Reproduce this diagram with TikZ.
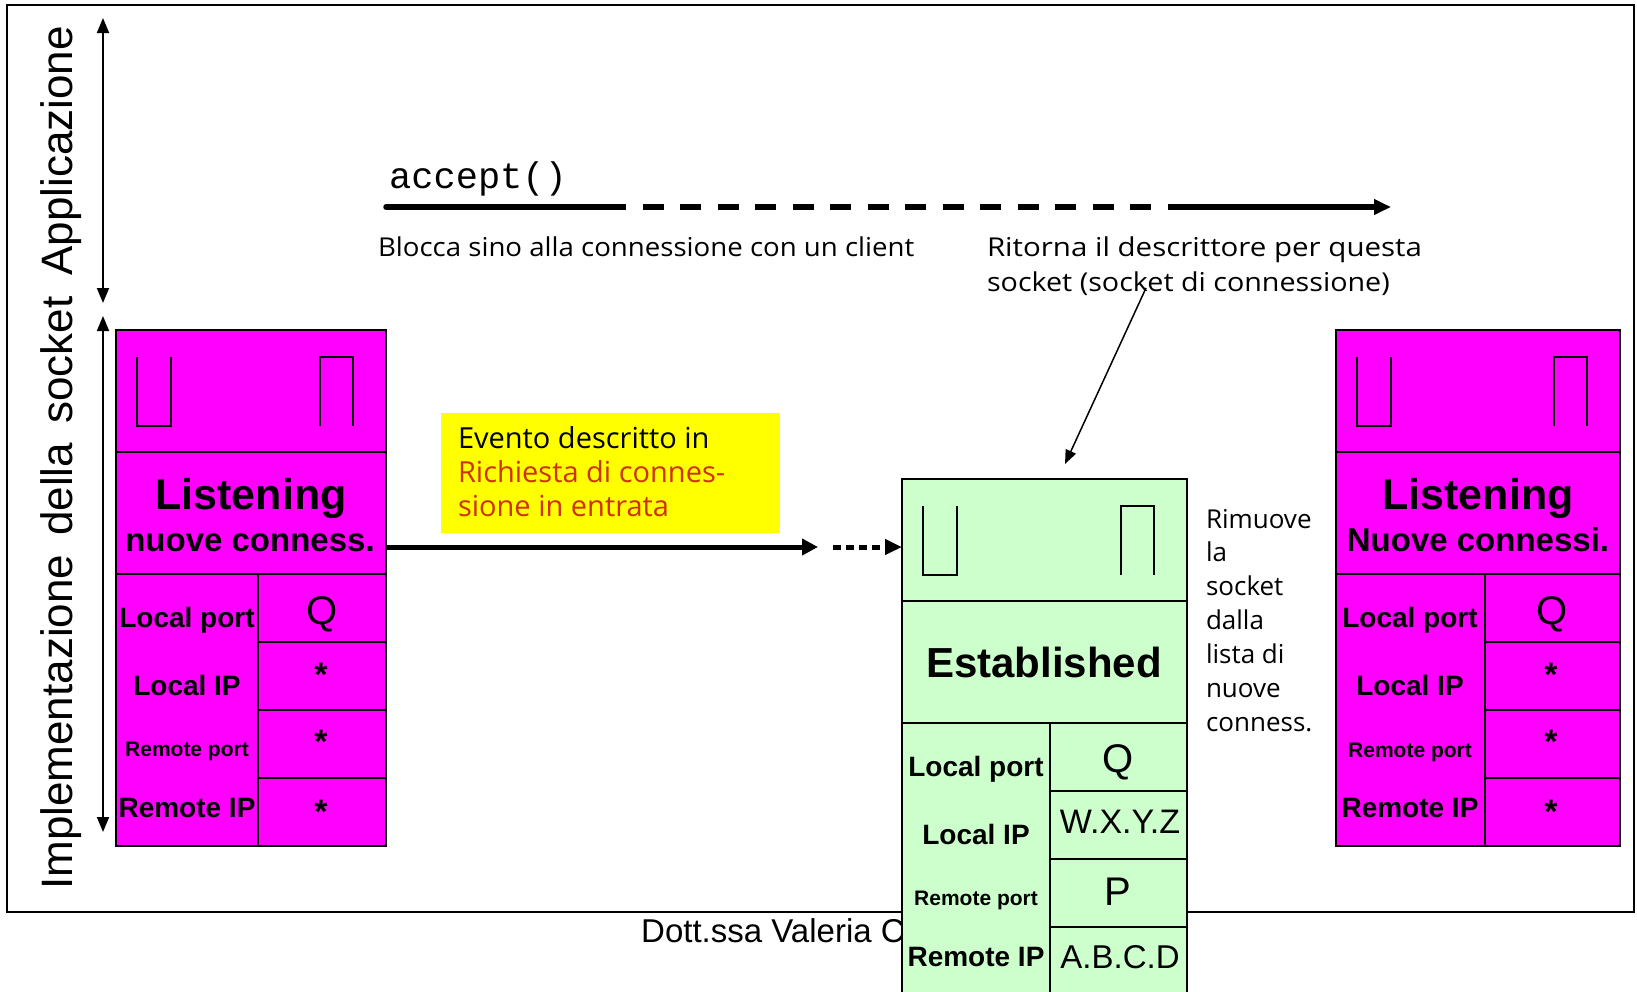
\documentclass[tikz,border=0pt]{standalone}
\usepackage{fontspec}
\setmainfont{Liberation Sans}
\newfontfamily\notefont{Open Sans}
\newfontfamily\codefont{Liberation Mono}
\usetikzlibrary{arrows.meta,calc}

\definecolor{sockmag}{RGB}{255,0,255}
\definecolor{estgreen}{RGB}{204,255,204}
\definecolor{evyellow}{RGB}{255,255,0}
\definecolor{evred}{RGB}{204,51,0}

\newcommand{\setfs}[1]{\fontsize{#1pt}{#1pt}\selectfont}

% socket record: #1 prefix, #2 left x, #3 top y, #4 width, #5 label column width, #6 fill
\newcommand{\sockrecord}[6]{%
  \node[cell,fill=#6,minimum width=#4,minimum height=122] (#1q) at (#2,#3) {};
  \node[cell,fill=#6,minimum width=#4,minimum height=122] (#1s) at (#2,#3+122) {};
  \node[cell,fill=#6,minimum width=#5,minimum height=272] (#1k) at (#2,#3+244) {};
  \node[cell,fill=#6,minimum width=#4-#5,minimum height=68] (#1c1) at (#2+#5,#3+244) {};
  \node[cell,fill=#6,minimum width=#4-#5,minimum height=68] (#1c2) at (#2+#5,#3+312) {};
  \node[cell,fill=#6,minimum width=#4-#5,minimum height=68] (#1c3) at (#2+#5,#3+380) {};
  \node[cell,fill=#6,minimum width=#4-#5,minimum height=68] (#1c4) at (#2+#5,#3+448) {};
  % queue symbols
  \draw[qline] ($(#1q.north west)+(21,27)$) -- ++(0,69) -- ++(34,0) -- ++(0,-69);
  \draw[qline] ($(#1q.north east)+(-66,96)$) -- ++(0,-69) -- ++(33,0) -- ++(0,69);
}

\begin{document}
\begin{tikzpicture}[x=1pt,y=-1pt,
  cell/.style={draw=black,line width=1.8pt,inner sep=0pt,outer sep=0pt,anchor=north west},
  qline/.style={draw=black,line width=1.8pt},
  txt/.style={inner sep=0pt,outer sep=0pt,anchor=base},
  title/.style={txt,font=\bfseries\setfs{43}},
  subtitle/.style={txt,font=\bfseries\setfs{33}},
  lab/.style={txt,font=\bfseries\setfs{28}},
  labsmall/.style={txt,font=\bfseries\setfs{21}},
  val/.style={txt,font=\setfs{40}},
  valsmall/.style={txt,font=\setfs{34}},
  star/.style={txt,font=\bfseries\setfs{34}},
  note/.style={inner sep=0pt,outer sep=0pt,anchor=base west,font=\notefont\setfs{26}},
  evnote/.style={note,font=\notefont\setfs{29}},
  bigarrow/.style={line width=5pt,-{Triangle[length=16pt,width=16pt]}},
  dotarrow/.style={line width=5pt,dash pattern=on 8pt off 5pt,-{Triangle[length=17pt,width=15pt]}},
  callarrow/.style={line width=5.5pt},
  thinarrow/.style={line width=1.5pt,-{Triangle[length=14pt,width=11pt]}},
  layerarrow/.style={line width=1.8pt,{Triangle[length=15pt,width=12pt]}-{Triangle[length=15pt,width=12pt]}}
]
\useasboundingbox (0,0) rectangle (1637,991);
\clip (0,0) rectangle (1637,991);
\fill[white] (0,0) rectangle (1637,991);

% slide frame and footer
\draw[line width=1.5pt] (7,5) rectangle (1634,912);
\node[inner sep=0pt,anchor=base west,font=\setfs{33}] (foot) at (641,942) {Dott.ssa Valeria C};

% layer labels on the left
\coordinate (appTop) at (103,18);
\coordinate (appBot) at (103,303);
\coordinate (impTop) at (103,316);
\coordinate (impBot) at (103,832);
\draw[layerarrow] (appTop) -- (appBot);
\draw[layerarrow] (impTop) -- (impBot);
\node[rotate=90,anchor=base west,inner sep=0pt,font=\setfs{44}] (side) at (72,890)
  {Implementazione\hspace{19pt}della\hspace{19pt}socket\hspace{21pt}Applicazione};

% accept() call
\node[inner sep=0pt,anchor=base west,font=\codefont\setfs{37}] (acc) at (389,188) {accept()};
\coordinate (callA) at (386,207);
\coordinate (callB) at (605,207);
\coordinate (callC) at (1172,207);
\coordinate (callD) at (1391,207);
\draw[callarrow,line cap=round] (callA) -- (callB);
\draw[callarrow,dash pattern=on 21pt off 16.5pt] (callB) -- (callC);
\draw[callarrow,-{Triangle[length=17pt,width=15pt]}] (callC) -- (callD);
\node[note,xscale=1.062] (blk) at (378,256) {Blocca sino alla connessione con un client};
\node[note,xscale=1.134] (ret1) at (987,256) {Ritorna il descrittore per questa};
\node[note,xscale=1.103] (ret2) at (987,291) {socket (socket di connessione)};

% listening socket (left)
\sockrecord{L}{116}{330}{270}{142}{sockmag}
\node[title] (Lt1) at (251,509) {Listening};
\node[subtitle] (Lt2) at (250,551) {nuove conness.};
\node[lab] (Ll1) at (187,627) {Local port};
\node[lab] (Ll2) at (187,695) {Local IP};
\node[labsmall] (Ll3) at (187,756) {Remote port};
\node[lab] (Ll4) at (187,817) {Remote IP};
\node[val] (Lv1) at (322,624) {Q};
\node[star] (Lv2) at (321,686) {*};
\node[star] (Lv3) at (321,753) {*};
\node[star] (Lv4) at (321,823) {*};

% listening socket (right)
\sockrecord{R}{1336}{330}{284}{149}{sockmag}
\node[title] (Rt1) at (1478,509) {Listening};
\node[subtitle] (Rt2) at (1478,551) {Nuove connessi.};
\node[lab] (Rl1) at (1410,627) {Local port};
\node[lab] (Rl2) at (1410,695) {Local IP};
\node[labsmall] (Rl3) at (1410,757) {Remote port};
\node[lab] (Rl4) at (1410,817) {Remote IP};
\node[val] (Rv1) at (1552,624) {Q};
\node[star] (Rv2) at (1551,686) {*};
\node[star] (Rv3) at (1551,753) {*};
\node[star] (Rv4) at (1551,823) {*};

% event box
\node[fill=evyellow,anchor=north west,minimum width=339,minimum height=120,inner sep=0pt] (ev) at (441,413) {};
\node[evnote] (ev1) at (458,448) {Evento descritto in};
\node[evnote,text=evred] (ev2) at (458,482) {Richiesta di connes-};
\node[evnote,text=evred] (ev3) at (458,516) {sione in entrata};

% established socket
\sockrecord{E}{902}{479}{285}{148}{estgreen}
\node[title,font=\bfseries\setfs{42}] (Et1) at (1044,677) {Established};
\node[lab] (El1) at (976,776) {Local port};
\node[lab] (El2) at (976,844) {Local IP};
\node[labsmall] (El3) at (976,905) {Remote port};
\node[lab] (El4) at (976,966) {Remote IP};
\node[val] (Ev1) at (1118,772) {Q};
\node[valsmall] (Ev2) at (1120,833) {W.X.Y.Z};
\node[val] (Ev3) at (1118,905) {P};
\node[valsmall,font=\setfs{33}] (Ev4) at (1120,968) {A.B.C.D};

% removal note
\foreach \t [count=\i from 0] in {Rimuove,la,socket,dalla,lista di,nuove,conness.}
  \node[note] (rm\i) at (1206,528+33.9*\i) {\t};

% connection request arrows
\coordinate (evEnd) at (818,547);
\coordinate (dotStart) at (833,547);
\draw[bigarrow] (Ls.east |- evEnd) -- (evEnd);
\draw[dotarrow] (dotStart) -- (dotStart -| Eq.west);

% pointer to the returned socket
\coordinate (retFrom) at (1146,288);
\coordinate (retTo) at (1065,464);
\draw[thinarrow] (retFrom) -- (retTo);
\end{tikzpicture}
\end{document}
